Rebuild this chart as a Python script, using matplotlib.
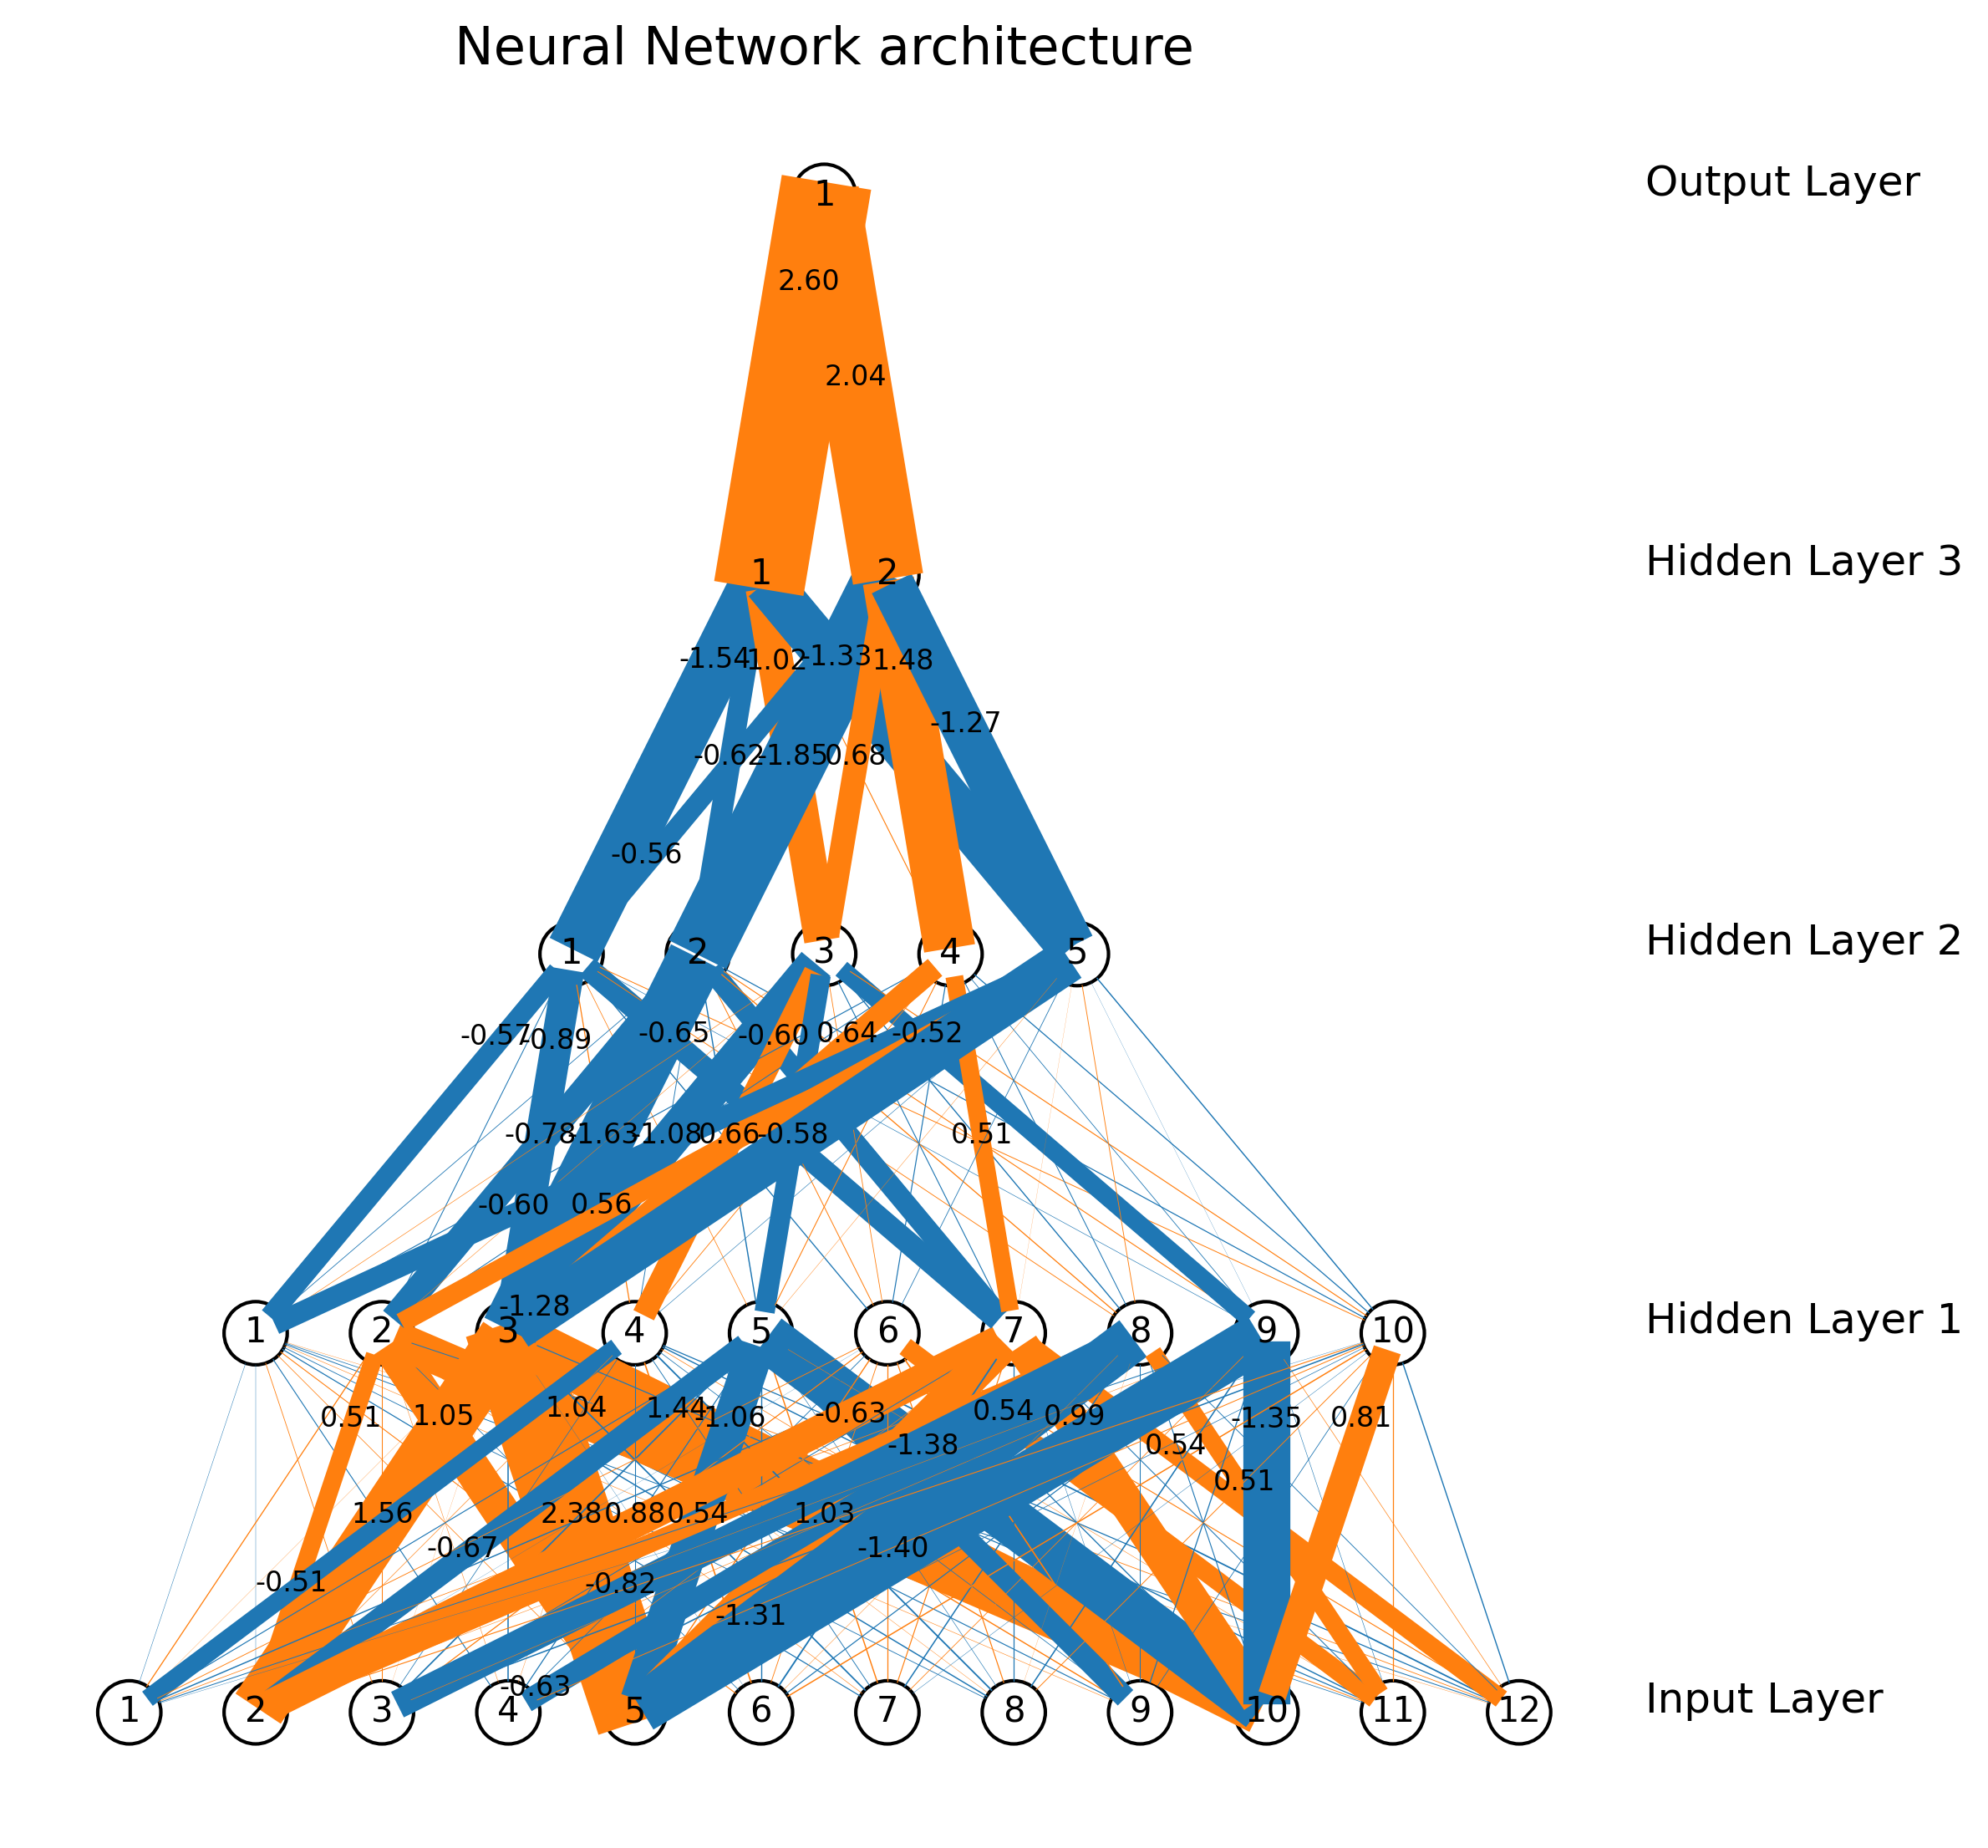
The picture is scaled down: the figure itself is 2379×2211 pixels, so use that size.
import numpy as np
import matplotlib
matplotlib.use("Agg")
import matplotlib.pyplot as plt
from math import atan, sin, cos

# ---------------- data ----------------
layer_sizes = [12, 10, 5, 2, 1]
layer_titles = ["Input Layer", "Hidden Layer 1", "Hidden Layer 2",
                "Hidden Layer 3", "Output Layer"]
chart_title = "Neural Network architecture"

# rows: input neurons (1..12), columns: hidden-1 neurons (1..10)
w_input_h1 = [
    [-0.12, 0.31, 0.07, -0.51, -0.28, 0.22, -0.35, 0.18, -0.25, -0.09],
    [-0.10, 0.51, 1.56, 0.15, -0.67, -0.06, 0.88, 0.54, 0.12, 0.27],
    [0.20, 0.25, 0.05, -0.18, -0.41, 0.30, -0.24, -0.82, 0.14, -0.37],
    [-0.27, 0.12, -0.38, 0.09, -0.30, -0.21, 0.16, -0.63, -0.40, 0.24],
    [0.18, 1.05, 2.38, -0.26, -1.06, 0.33, 1.03, -1.31, -1.40, -0.17],
    [0.26, -0.19, -0.08, 0.39, -0.34, 0.21, -0.45, 0.11, -0.29, 0.36],
    [-0.30, 0.14, -0.42, -0.22, 0.35, 0.30, 0.28, -0.37, 0.19, -0.11],
    [-0.21, -0.36, 0.10, -0.44, -0.15, 0.29, -0.30, 0.06, -0.38, 0.23],
    [0.13, -0.28, 0.34, -0.19, -0.63, 0.41, -0.12, -0.25, -0.31, -0.20],
    [-0.24, 1.04, 1.44, 0.17, -1.38, -0.32, 0.99, -0.27, -1.35, 0.81],
    [-0.18, 0.23, -0.30, -0.35, 0.12, 0.54, -0.26, 0.51, -0.14, 0.30],
    [0.09, -0.25, 0.20, -0.31, -0.43, 0.27, 0.54, -0.22, 0.16, -0.34],
]
# rows: hidden-1 neurons, columns: hidden-2 neurons
w_h1_h2 = [
    [-0.57, -0.20, 0.15, -0.28, -0.60],
    [-0.25, -0.78, 0.12, -0.25, 0.56],
    [-0.89, -1.63, -1.08, 0.64, -1.28],
    [0.30, -0.22, 0.66, 0.21, -0.14],
    [0.18, -0.35, -0.58, 0.26, 0.10],
    [-0.32, 0.24, 0.20, -0.29, -0.20],
    [-0.65, -0.60, -0.27, 0.51, 0.05],
    [0.22, 0.31, -0.33, -0.25, 0.22],
    [-0.15, 0.27, -0.52, -0.20, -0.06],
    [0.24, -0.30, 0.28, -0.31, -0.35],
]
# rows: hidden-2 neurons, columns: hidden-3 neurons
w_h2_h3 = [
    [-1.54, -0.56],
    [-0.62, -1.85],
    [1.02, 0.68],
    [0.27, 1.48],
    [-1.33, -1.27],
]
# rows: hidden-3 neurons, column: output neuron
w_h3_out = [
    [2.60],
    [2.04],
]

# ---------------- style / layout ----------------
NEG_COLOR = (31 / 255., 119 / 255., 180 / 255.)
POS_COLOR = (255 / 255., 127 / 255., 14 / 255.)
V_GAP = 6
H_GAP = 2
RADIUS = 0.5


class LabelGrid:
    """Occupancy grid used to keep weight labels from overlapping."""

    def __init__(self, width, height, grid_size=0.2):
        self.grid_size = grid_size
        self.cells = np.ones((int(np.ceil(width / grid_size)),
                              int(np.ceil(height / grid_size))), dtype=bool)

    def getspace(self, c):
        xl = int(np.floor(c[0] / self.grid_size))
        yb = int(np.floor(c[1] / self.grid_size))
        xr = int(np.floor(c[2] / self.grid_size))
        yt = int(np.floor(c[3] / self.grid_size))
        if (self.cells[xl, yb] and self.cells[xl, yt]
                and self.cells[xr, yt] and self.cells[xr, yb]):
            for i in range(xl, xr):
                for j in range(yb, yt):
                    self.cells[i, j] = False
            return True
        return False


def connect(ax, n1, n2, weight, grid):
    angle = atan((n2[0] - n1[0]) / float(n2[1] - n1[1]))
    xa = RADIUS * sin(angle)
    ya = RADIUS * cos(angle)
    color = POS_COLOR if weight > 0 else NEG_COLOR
    aw = abs(weight)
    lw = 10 * aw if aw > 0.5 else aw
    if aw > 0.5:
        step = 2
        nseg = 10
        tx = n1[0] - xa + step * (n2[0] - n1[0] + 2 * xa) / nseg
        ty = n1[1] - ya + step * (n2[1] - n1[1] + 2 * ya) / nseg
        while (not grid.getspace([tx - 0.5, ty - 0.5, tx + 0.5, ty + 0.5])) and step < nseg:
            step += 1
            tx = n1[0] - xa + step * (n2[0] - n1[0] + 2 * xa) / nseg
            ty = n1[1] - ya + step * (n2[1] - n1[1] + 2 * ya) / nseg
        ax.text(tx, ty, "{:3.2f}".format(weight), size=8, ha='center')
    line = plt.Line2D((n1[0] - xa, n2[0] + xa), (n1[1] - ya, n2[1] + ya),
                      linewidth=lw, color=color)
    ax.add_line(line)


weights = [None, np.array(w_input_h1), np.array(w_h1_h2),
           np.array(w_h2_h3), np.array(w_h3_out)]

widest = max(layer_sizes)
positions = []
for li, n in enumerate(layer_sizes):
    y = li * V_GAP
    x = H_GAP * (widest - n) / 2
    xs = []
    for _ in range(n):
        xs.append(x)
        x += H_GAP
    positions.append((xs, y))

fig = plt.figure(figsize=(12, 9))
ax = plt.gca()
grid = LabelGrid(widest * H_GAP, len(layer_sizes) * V_GAP, grid_size=0.2)

for li, n in enumerate(layer_sizes):
    xs, y = positions[li]
    for j in range(n):
        circ = plt.Circle((xs[j], y), radius=RADIUS, fill=False)
        ax.add_patch(circ)
        ax.text(xs[j], y - 0.15, str(j + 1), size=10, ha='center')
        if li > 0:
            pxs, py = positions[li - 1]
            for i in range(len(pxs)):
                connect(ax, (xs[j], y), (pxs[i], py), weights[li][i, j], grid)
    ax.text(widest * H_GAP, y, layer_titles[li], fontsize=12)

plt.axis('scaled')
plt.axis('off')
plt.title(chart_title, fontsize=15)
plt.savefig("out.png", dpi=300, bbox_inches="tight")
